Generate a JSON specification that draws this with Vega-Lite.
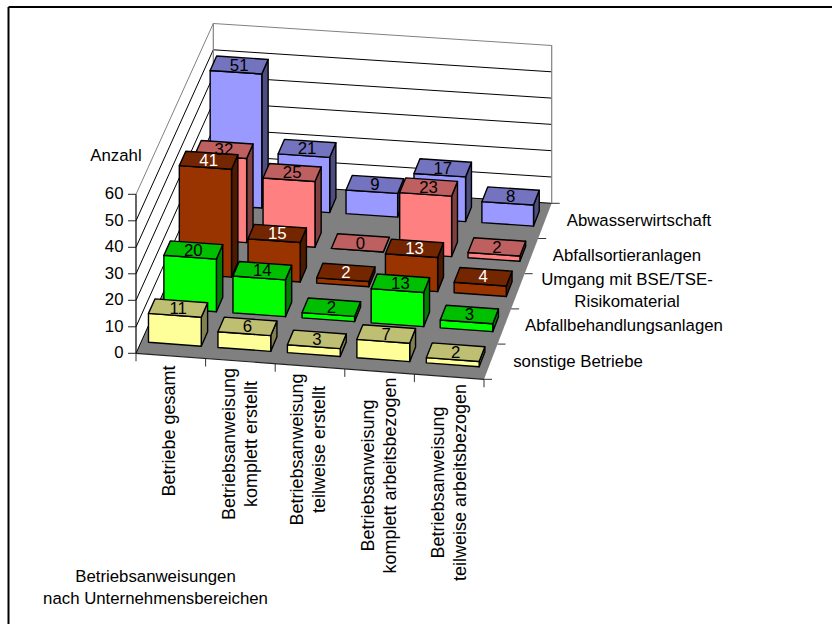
{
"$schema":"https://vega.github.io/schema/vega-lite/v6.json",
"width":823.5,"height":617,
"autosize":{"type":"none"},
"padding":{"left":8.5,"top":7,"right":0,"bottom":0},
"background":"white",
"config":{"view":{"stroke":null},"text":{"font":"Liberation Sans","fontSize":16.8}},
"datasets":{
"werte":[
{"betrieb":"Betriebe gesamt","bereich":"Abwasserwirtschaft","anzahl":51},
{"betrieb":"Betriebsanweisung komplett erstellt","bereich":"Abwasserwirtschaft","anzahl":21},
{"betrieb":"Betriebsanweisung teilweise erstellt","bereich":"Abwasserwirtschaft","anzahl":9},
{"betrieb":"Betriebsanweisung komplett arbeitsbezogen","bereich":"Abwasserwirtschaft","anzahl":17},
{"betrieb":"Betriebsanweisung teilweise arbeitsbezogen","bereich":"Abwasserwirtschaft","anzahl":8},
{"betrieb":"Betriebe gesamt","bereich":"Abfallsortieranlagen","anzahl":32},
{"betrieb":"Betriebsanweisung komplett erstellt","bereich":"Abfallsortieranlagen","anzahl":25},
{"betrieb":"Betriebsanweisung teilweise erstellt","bereich":"Abfallsortieranlagen","anzahl":0},
{"betrieb":"Betriebsanweisung komplett arbeitsbezogen","bereich":"Abfallsortieranlagen","anzahl":23},
{"betrieb":"Betriebsanweisung teilweise arbeitsbezogen","bereich":"Abfallsortieranlagen","anzahl":2},
{"betrieb":"Betriebe gesamt","bereich":"Umgang mit BSE/TSE-Risikomaterial","anzahl":41},
{"betrieb":"Betriebsanweisung komplett erstellt","bereich":"Umgang mit BSE/TSE-Risikomaterial","anzahl":15},
{"betrieb":"Betriebsanweisung teilweise erstellt","bereich":"Umgang mit BSE/TSE-Risikomaterial","anzahl":2},
{"betrieb":"Betriebsanweisung komplett arbeitsbezogen","bereich":"Umgang mit BSE/TSE-Risikomaterial","anzahl":13},
{"betrieb":"Betriebsanweisung teilweise arbeitsbezogen","bereich":"Umgang mit BSE/TSE-Risikomaterial","anzahl":4},
{"betrieb":"Betriebe gesamt","bereich":"Abfallbehandlungsanlagen","anzahl":20},
{"betrieb":"Betriebsanweisung komplett erstellt","bereich":"Abfallbehandlungsanlagen","anzahl":14},
{"betrieb":"Betriebsanweisung teilweise erstellt","bereich":"Abfallbehandlungsanlagen","anzahl":2},
{"betrieb":"Betriebsanweisung komplett arbeitsbezogen","bereich":"Abfallbehandlungsanlagen","anzahl":13},
{"betrieb":"Betriebsanweisung teilweise arbeitsbezogen","bereich":"Abfallbehandlungsanlagen","anzahl":3},
{"betrieb":"Betriebe gesamt","bereich":"sonstige Betriebe","anzahl":11},
{"betrieb":"Betriebsanweisung komplett erstellt","bereich":"sonstige Betriebe","anzahl":6},
{"betrieb":"Betriebsanweisung teilweise erstellt","bereich":"sonstige Betriebe","anzahl":3},
{"betrieb":"Betriebsanweisung komplett arbeitsbezogen","bereich":"sonstige Betriebe","anzahl":7},
{"betrieb":"Betriebsanweisung teilweise arbeitsbezogen","bereich":"sonstige Betriebe","anzahl":2}
],
"betriebe":[
{"nr":0,"beschriftung":"Betriebe gesamt"},
{"nr":1,"beschriftung":"Betriebsanweisung\nkomplett erstellt"},
{"nr":2,"beschriftung":"Betriebsanweisung\nteilweise erstellt"},
{"nr":3,"beschriftung":"Betriebsanweisung\nkomplett arbeitsbezogen"},
{"nr":4,"beschriftung":"Betriebsanweisung\nteilweise arbeitsbezogen"}
],
"bereiche":[
{"nr":0,"beschriftung":"sonstige Betriebe"},
{"nr":1,"beschriftung":"Abfallbehandlungsanlagen"},
{"nr":2,"beschriftung":"Umgang mit BSE/TSE-\nRisikomaterial"},
{"nr":3,"beschriftung":"Abfallsortieranlagen"},
{"nr":4,"beschriftung":"Abwasserwirtschaft"}
],
"skala":[{"wert":0},{"wert":10},{"wert":20},{"wert":30},{"wert":40},{"wert":50},{"wert":60}],
"teilung":[{"k":0},{"k":1},{"k":2},{"k":3},{"k":4},{"k":5}],
"kanten":[{"kante":0},{"kante":1},{"kante":2}],
"titel":[{"titel":"Betriebsanweisungen\nnach Unternehmensbereichen","nr":0},{"titel":"Anzahl","nr":1}]
},
"layer":[
{"data":{"values":[{"flaeche":"Boden"}]},
 "transform":[{"calculate":"136","as":"px"},{"calculate":"353.3","as":"py"}],
 "mark":{"type":"point","shape":"M0 0L348 26L415.7 -150L77.3 -172Z","size":4,"filled":true,"opacity":1,"fill":"#808080","stroke":null},
 "encoding":{
  "x":{"field":"px","type":"quantitative","scale":{"domain":[8.5,832],"nice":false,"zero":false},"axis":null},
  "y":{"field":"py","type":"quantitative","scale":{"domain":[624,7],"nice":false,"zero":false},"axis":null}
 }},
{"data":{"values":[{"rahmen":"oben"}]},"mark":{"type":"rule","stroke":"#000000","strokeWidth":2},"encoding":{"y":{"value":0}}},
{"data":{"values":[{"rahmen":"links"}]},"mark":{"type":"rule","stroke":"#000000","strokeWidth":2},"encoding":{"x":{"value":0}}},
{"data":{"name":"skala"},
 "transform":[{"calculate":"136","as":"x1"},{"calculate":"213.3","as":"x2"},{"calculate":"353.3-datum.wert*2.65","as":"y1"},{"calculate":"181.3-datum.wert*2.63","as":"y2"},{"calculate":"datum.wert==60?'#808080':'#000000'","as":"farbe"}],
 "mark":{"type":"rule","strokeWidth":1},
 "encoding":{"x":{"field":"x1","type":"quantitative","axis":null},"x2":{"field":"x2"},"y":{"field":"y1","type":"quantitative","axis":null},"y2":{"field":"y2"},"stroke":{"field":"farbe","type":"nominal","scale":null}}},
{"data":{"name":"skala"},
 "transform":[{"calculate":"213.3","as":"x1"},{"calculate":"551.7","as":"x2"},{"calculate":"181.3-datum.wert*2.63","as":"y1"},{"calculate":"203.3-datum.wert*2.63","as":"y2"},{"calculate":"datum.wert==60?'#808080':'#000000'","as":"farbe"}],
 "mark":{"type":"rule","strokeWidth":1},
 "encoding":{"x":{"field":"x1","type":"quantitative","axis":null},"x2":{"field":"x2"},"y":{"field":"y1","type":"quantitative","axis":null},"y2":{"field":"y2"},"stroke":{"field":"farbe","type":"nominal","scale":null}}},
{"data":{"name":"kanten"},
 "transform":[{"calculate":"[136,213.3,551.7][datum.kante]","as":"x1"},{"calculate":"[353.3,181.3,203.3][datum.kante]","as":"y1"},{"calculate":"datum.y1-158*(datum.kante==0?1.006:1)","as":"y2"},{"calculate":"datum.kante==0?'#000000':'#808080'","as":"farbe"}],
 "mark":{"type":"rule","strokeWidth":1.2},
 "encoding":{"x":{"field":"x1","type":"quantitative","axis":null},"y":{"field":"y1","type":"quantitative","axis":null},"y2":{"field":"y2"},"stroke":{"field":"farbe","type":"nominal","scale":null}}},
{"data":{"name":"skala"},
 "transform":[{"calculate":"128","as":"x1"},{"calculate":"136","as":"x2"},{"calculate":"353.3-datum.wert*2.65","as":"y1"}],
 "mark":{"type":"rule","strokeWidth":1,"stroke":"#222222"},
 "encoding":{"x":{"field":"x1","type":"quantitative","axis":null},"x2":{"field":"x2"},"y":{"field":"y1","type":"quantitative","axis":null}}},
{"data":{"name":"skala"},
 "transform":[{"calculate":"123.5","as":"x1"},{"calculate":"353.3-datum.wert*2.65","as":"y1"}],
 "mark":{"type":"text","align":"right","baseline":"middle","fill":"#000000"},
 "encoding":{"x":{"field":"x1","type":"quantitative","axis":null},"y":{"field":"y1","type":"quantitative","axis":null},"text":{"field":"wert","type":"quantitative"}}},
{"data":{"name":"teilung"},
 "transform":[{"calculate":"136+348*datum.k/5","as":"x1"},{"calculate":"353.3+26*datum.k/5","as":"y1"},{"calculate":"datum.y1+8","as":"y2"}],
 "mark":{"type":"rule","strokeWidth":1,"stroke":"#333333"},
 "encoding":{"x":{"field":"x1","type":"quantitative","axis":null},"y":{"field":"y1","type":"quantitative","axis":null},"y2":{"field":"y2"}}},
{"data":{"name":"teilung"},
 "transform":[{"calculate":"484+67.7*datum.k/5","as":"x1"},{"calculate":"379.3-176*datum.k/5","as":"y1"},{"calculate":"datum.x1+8","as":"x2"}],
 "mark":{"type":"rule","strokeWidth":1,"stroke":"#333333"},
 "encoding":{"x":{"field":"x1","type":"quantitative","axis":null},"x2":{"field":"x2"},"y":{"field":"y1","type":"quantitative","axis":null}}},
{"data":{"values":[{"kante":"vorn"}]},
 "transform":[{"calculate":"136","as":"x1"},{"calculate":"484","as":"x2"},{"calculate":"353.3","as":"y1"},{"calculate":"379.3","as":"y2"}],
 "mark":{"type":"rule","strokeWidth":1.2,"stroke":"#222222"},
 "encoding":{"x":{"field":"x1","type":"quantitative","axis":null},"x2":{"field":"x2"},"y":{"field":"y1","type":"quantitative","axis":null},"y2":{"field":"y2"}}},
{"data":{"name":"werte"},
 "transform":[
 {"calculate":"indexof(['Betriebe gesamt','Betriebsanweisung komplett erstellt','Betriebsanweisung teilweise erstellt','Betriebsanweisung komplett arbeitsbezogen','Betriebsanweisung teilweise arbeitsbezogen'],datum.betrieb)","as":"i"},
 {"calculate":"indexof(['sonstige Betriebe','Abfallbehandlungsanlagen','Umgang mit BSE/TSE-Risikomaterial','Abfallsortieranlagen','Abwasserwirtschaft'],datum.bereich)","as":"j"},
 {"calculate":"(datum.i+0.105)/5","as":"u0"},
 {"calculate":"(datum.i+0.865)/5","as":"u1"},
 {"calculate":"(datum.j+0.335)/5","as":"v0"},
 {"calculate":"(datum.j+0.755)/5","as":"v1"},
 {"calculate":"round(datum.anzahl*263)/100","as":"h"},
 {"calculate":"136+348*datum.u0+77.3*datum.v0-9.6*datum.u0*datum.v0","as":"flx"},
 {"calculate":"353.3+26*datum.u0-172*datum.v0-4*datum.u0*datum.v0","as":"fly"},
 {"calculate":"round(100*(136+348*datum.u1+77.3*datum.v0-9.6*datum.u1*datum.v0-datum.flx))/100","as":"rx"},
 {"calculate":"round(100*(353.3+26*datum.u1-172*datum.v0-4*datum.u1*datum.v0-datum.fly))/100","as":"ry"},
 {"calculate":"round(100*(136+348*datum.u1+77.3*datum.v1-9.6*datum.u1*datum.v1-datum.flx))/100","as":"bx"},
 {"calculate":"round(100*(353.3+26*datum.u1-172*datum.v1-4*datum.u1*datum.v1-datum.fly))/100","as":"by"},
 {"calculate":"round(100*(136+348*datum.u0+77.3*datum.v1-9.6*datum.u0*datum.v1-datum.flx))/100","as":"lx"},
 {"calculate":"round(100*(353.3+26*datum.u0-172*datum.v1-4*datum.u0*datum.v1-datum.fly))/100","as":"ly"},
 {"calculate":"round(100*(datum.ry-datum.h))/100","as":"rt"},
 {"calculate":"round(100*(datum.by-datum.h))/100","as":"bt"},
 {"calculate":"round(100*(datum.ly-datum.h))/100","as":"lt"},
 {"calculate":"'M0 0L'+datum.rx+' '+datum.ry+'L'+datum.rx+' '+datum.rt+'L0 '+(0-datum.h)+'Z'","as":"front"},
 {"calculate":"'M'+datum.rx+' '+datum.ry+'L'+datum.bx+' '+datum.by+'L'+datum.bx+' '+datum.bt+'L'+datum.rx+' '+datum.rt+'Z'","as":"side"},
 {"calculate":"'M0 '+(0-datum.h)+'L'+datum.rx+' '+datum.rt+'L'+datum.bx+' '+datum.bt+'L'+datum.lx+' '+datum.lt+'Z'","as":"top"},
 {"fold":["side","front","top"],"as":["flaeche","pfad"]},
 {"calculate":"(datum.flaeche=='front'?['#FFFF99','#00FF00','#993300','#FF8080','#9999FF']:datum.flaeche=='top'?['#BFBF73','#00BF00','#732600','#BF6060','#7373BF']:['#808050','#008000','#4D1A00','#804040','#4D4D80'])[datum.j]","as":"farbe"},
 {"calculate":"(4-datum.j)*100+datum.i*10+indexof(['side','front','top'],datum.flaeche)","as":"folge"}
 ],
 "mark":{"type":"point","filled":true,"opacity":1,"size":4,"stroke":"#000000","strokeWidth":1.4,"strokeJoin":"round"},
 "encoding":{
  "x":{"field":"flx","type":"quantitative","axis":null},
  "y":{"field":"fly","type":"quantitative","axis":null},
  "shape":{"field":"pfad","type":"nominal","scale":null},
  "fill":{"field":"farbe","type":"nominal","scale":null},
  "order":{"field":"folge","type":"quantitative"}
 }},
{"data":{"name":"werte"},
 "transform":[
 {"calculate":"indexof(['Betriebe gesamt','Betriebsanweisung komplett erstellt','Betriebsanweisung teilweise erstellt','Betriebsanweisung komplett arbeitsbezogen','Betriebsanweisung teilweise arbeitsbezogen'],datum.betrieb)","as":"i"},
 {"calculate":"indexof(['sonstige Betriebe','Abfallbehandlungsanlagen','Umgang mit BSE/TSE-Risikomaterial','Abfallsortieranlagen','Abwasserwirtschaft'],datum.bereich)","as":"j"},
 {"calculate":"(datum.i+0.485)/5","as":"u"},
 {"calculate":"(datum.j+0.545)/5","as":"v"},
 {"calculate":"136+348*datum.u+77.3*datum.v-9.6*datum.u*datum.v","as":"tx"},
 {"calculate":"354+26*datum.u-172*datum.v-4*datum.u*datum.v-datum.anzahl*2.63","as":"ty"},
 {"calculate":"datum.j==2?'#FFFFFF':'#000000'","as":"tf"}
 ],
 "mark":{"type":"text","align":"center","baseline":"middle"},
 "encoding":{"x":{"field":"tx","type":"quantitative","axis":null},"y":{"field":"ty","type":"quantitative","axis":null},"text":{"field":"anzahl","type":"quantitative"},"fill":{"field":"tf","type":"nominal","scale":null}}},
{"data":{"name":"betriebe"},
 "transform":[{"calculate":"[170,229.5,298,368.5,438.5][datum.nr]","as":"tx"},{"calculate":"[431,444,449.5,475.5,482.5][datum.nr]","as":"ty"}],
 "mark":{"type":"text","align":"center","baseline":"middle","angle":270,"lineBreak":"\n","lineHeight":22,"fill":"#000000","fontSize":18},
 "encoding":{"x":{"field":"tx","type":"quantitative","axis":null},"y":{"field":"ty","type":"quantitative","axis":null},"text":{"field":"beschriftung","type":"nominal"}}},
{"data":{"name":"bereiche"},
 "transform":[{"calculate":"[578,624,627,627,639][datum.nr]","as":"tx"},{"calculate":"[362,326,280,256,221][datum.nr]","as":"ty"}],
 "mark":{"type":"text","align":"center","baseline":"middle","lineBreak":"\n","lineHeight":22,"fill":"#000000"},
 "encoding":{"x":{"field":"tx","type":"quantitative","axis":null},"y":{"field":"ty","type":"quantitative","axis":null},"text":{"field":"beschriftung","type":"nominal"}}},
{"data":{"name":"titel"},
 "transform":[{"calculate":"[155.5,116][datum.nr]","as":"tx"},{"calculate":"[577,156][datum.nr]","as":"ty"}],
 "mark":{"type":"text","align":"center","baseline":"middle","lineBreak":"\n","lineHeight":22,"fill":"#000000"},
 "encoding":{"x":{"field":"tx","type":"quantitative","axis":null},"y":{"field":"ty","type":"quantitative","axis":null},"text":{"field":"titel","type":"nominal"}}}
]
}
